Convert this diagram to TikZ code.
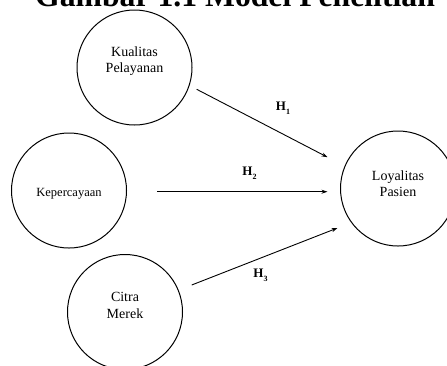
\documentclass[tikz,border=0pt]{standalone}
\usepackage{fontspec}
\setmainfont{Liberation Serif}
\usetikzlibrary{arrows.meta}

\begin{document}
\begin{tikzpicture}[x=1pt,y=-1pt,
    construct/.style={draw, circle, line width=1pt, minimum size=115pt,
      inner sep=0pt, align=center, text depth=0pt,
      font=\fontsize{14}{16.5}\selectfont},
    path/.style={line width=0.9pt, -{Stealth[length=6pt,width=4pt]}},
    hyp/.style={font=\fontsize{13}{13}\bfseries\selectfont, inner sep=0pt}]
  \useasboundingbox[fill=white] (0,0) rectangle (447,365);

  % caption
  \node[anchor=base, font=\fontsize{31.7}{34}\bfseries\selectfont, inner sep=0pt]
    (title) at (235,6) {Gambar 1.1 Model Penelitian};

  % latent variables
  \node[construct, text height=10.5pt] (kp) at (134.5,67.5) {Kualitas\\Pelayanan};
  \node[construct, text height=12pt, font=\fontsize{12.5}{15}\selectfont]
    (kep) at (69,190.5) {Kepercayaan};
  \node[construct, text height=15pt, font=\fontsize{14}{16}\selectfont]
    (loy) at (398,188.5) {Loyalitas\\Pasien};
  \node[construct, text height=13pt, font=\fontsize{14}{17}\selectfont]
    (cm) at (125,312) {Citra\\Merek};

  % hypothesis paths
  \coordinate (h1s) at (196.7,89.3);
  \coordinate (h1e) at (327.5,157.2);
  \coordinate (h2s) at (157.3,191.7);
  \coordinate (h2e) at (327.5,191.7);
  \coordinate (h3s) at (191.7,285);
  \coordinate (h3e) at (337.5,228);
  \draw[path] (h1s) -- (h1e);
  \draw[path] (h2s) -- (h2e);
  \draw[path] (h3s) -- (h3e);

  \node[hyp] (l1) at (283,108.5) {H\raisebox{-0.3em}{\fontsize{8}{8}\selectfont 1}};
  \node[hyp] (l2) at (249.5,173.5) {H\raisebox{-0.3em}{\fontsize{8}{8}\selectfont 2}};
  \node[hyp] (l3) at (260.5,275) {H\raisebox{-0.3em}{\fontsize{8}{8}\selectfont 3}};
\end{tikzpicture}
\end{document}
